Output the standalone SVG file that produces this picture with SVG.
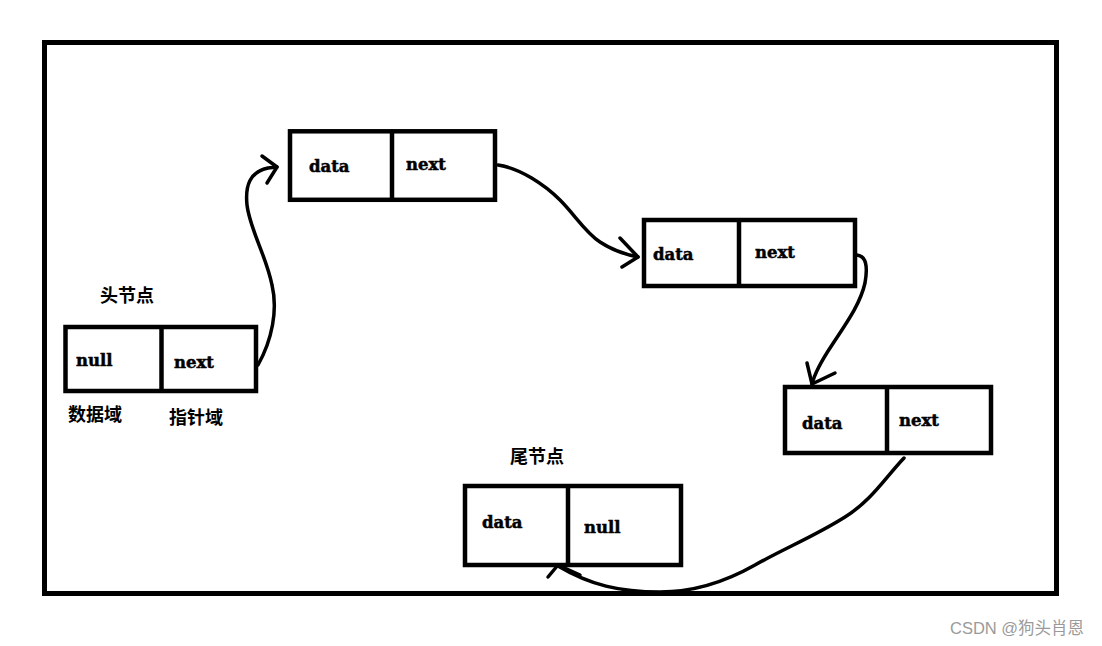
<svg xmlns="http://www.w3.org/2000/svg" width="1102" height="646" viewBox="0 0 1102 646">
<style>
.box{fill:none;stroke:#000;stroke-width:4.5}
.div{stroke:#000;stroke-width:4.5}
.t{font-family:"DejaVu Serif","Liberation Serif",serif;font-weight:bold;font-size:16.5px;fill:#000;stroke:#000;stroke-width:0.5}
.c{font-family:"Noto Sans CJK SC","Noto Sans",sans-serif;font-weight:bold;font-size:18px;fill:#000}
.wire{fill:none;stroke:#000;stroke-width:3.5;stroke-linecap:round;stroke-linejoin:round}
.wm{font-family:"Liberation Sans","Noto Sans CJK SC",sans-serif;font-size:16.5px;fill:#9a9a9a}
</style>
<rect width="1102" height="646" fill="#fff"/>
<rect id="frame" x="44.5" y="42.5" width="1012" height="551" fill="none" stroke="#000" stroke-width="5"/>
<g id="head">
<rect class="box" x="65.5" y="327" width="190.5" height="64"/>
<line class="div" x1="161.5" y1="327" x2="161.5" y2="391"/>
<text class="t" x="76" y="366">null</text>
<text class="t" x="174" y="368">next</text>
<text class="c" x="100" y="302">头节点</text>
<text class="c" x="68" y="421">数据域</text>
<text class="c" x="169" y="424">指针域</text>
</g>
<g id="node1">
<rect class="box" x="290" y="131.3" width="205" height="68.5"/>
<line class="div" x1="392" y1="131.3" x2="392" y2="202"/>
<text class="t" x="309" y="172">data</text>
<text class="t" x="406" y="170">next</text>
</g>
<g id="node2">
<rect class="box" x="644" y="220" width="211" height="66"/>
<line class="div" x1="739" y1="218" x2="739" y2="286"/>
<text class="t" x="653" y="260">data</text>
<text class="t" x="755" y="258">next</text>
</g>
<g id="node3">
<rect class="box" x="785" y="387" width="206" height="66"/>
<line class="div" x1="887" y1="387" x2="887" y2="455"/>
<text class="t" x="802" y="429">data</text>
<text class="t" x="899" y="426">next</text>
</g>
<g id="tail">
<rect class="box" x="465" y="486" width="216" height="79"/>
<line class="div" x1="568" y1="484" x2="568" y2="565"/>
<text class="t" x="482" y="528">data</text>
<text class="t" x="584" y="533">null</text>
<text class="c" x="510" y="463">尾节点</text>
</g>
<g id="connectors">
<path class="wire" d="M258,365 C272,340 278,310 272,285 C266,255 250,230 247,205 C245,185 250,172 268,168 L277,167"/>
<path class="wire" d="M262,156 L277,167 L267,183"/>
<path class="wire" d="M498,165 C520,168 545,185 560,200 C575,215 585,232 600,242 C615,252 628,255 638,257"/>
<path class="wire" d="M620,238 L638,257 L622,267"/>
<path class="wire" d="M857,255 C866,256 868,266 865,283 C860,305 845,325 832,345 C822,360 815,372 812,384"/>
<path class="wire" d="M807,363 L812,384 L835,373"/>
<path class="wire" d="M904,458 C885,478 872,500 845,517 C815,536 785,548 755,565 C725,582 695,592 660,592 C620,592 590,585 558,566"/>
<path class="wire" d="M548,577 L558,565 L580,575"/>
</g>
<text class="wm" x="950" y="634">CSDN @狗头肖恩</text>
</svg>
